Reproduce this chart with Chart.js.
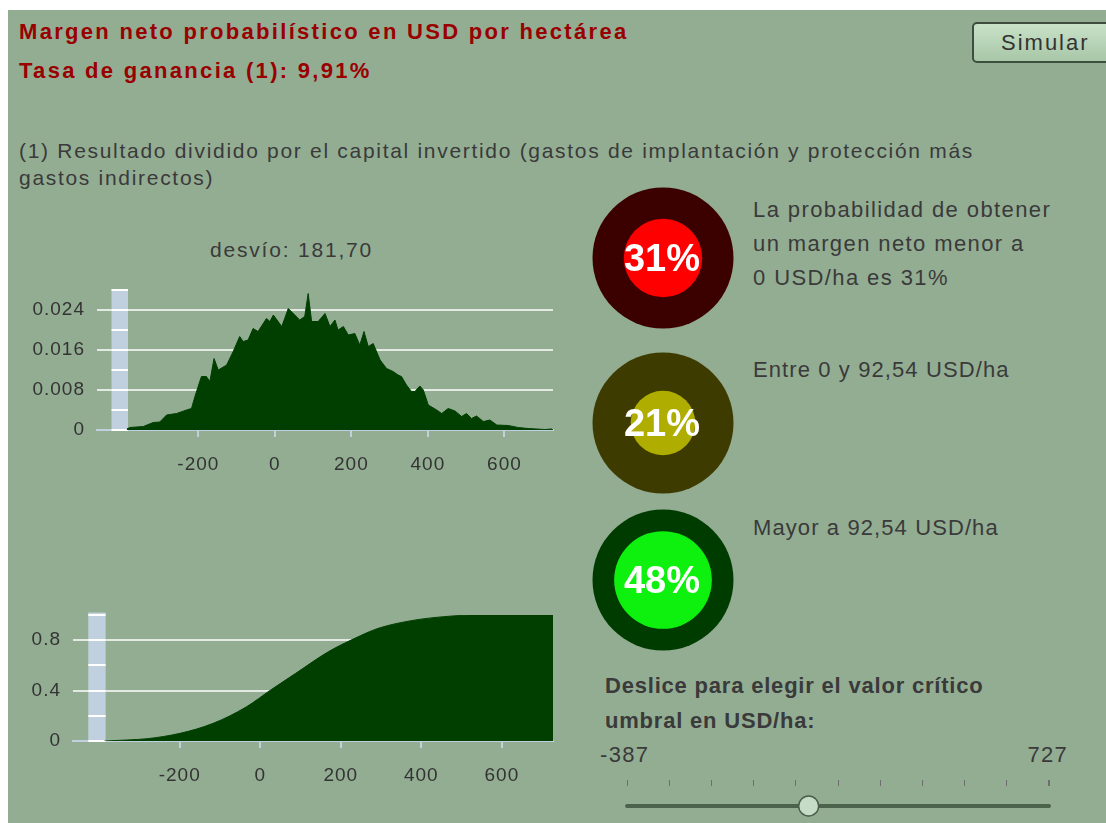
<!DOCTYPE html>
<html>
<head>
<meta charset="utf-8">
<script src="https://cdn.jsdelivr.net/npm/chart.js@4.4.0/dist/chart.umd.min.js"></script>
<style>
body { margin: 0; width: 1106px; height: 823px; overflow: hidden; background: #fff; font-family: "Liberation Sans", Arial, sans-serif; }
#panel { position: absolute; left: 8px; top: 10px; width: 1098px; height: 813px; background: #93ad93; }
.t { position: absolute; white-space: nowrap; color: #3a3a3a; }
.red { color: #990000; font-weight: bold; font-size: 22px; letter-spacing: 2.3px; line-height: 30px; left: 19px; }
canvas { position: absolute; }
#btn { position: absolute; left: 972px; top: 22px; width: 150px; height: 41px; box-sizing: border-box;
  border: 2px solid #3e4e3e; border-radius: 5px; background: linear-gradient(#c8e2c8, #a8c6a8);
  font-size: 22px; letter-spacing: 2px; color: #333; line-height: 37px; padding-left: 27px; }
</style>
</head>
<body>
<div id="panel"></div>
<div class="t red" style="top:17px">Margen neto probabilístico en USD por hectárea</div>
<div class="t red" style="top:56px">Tasa de ganancia (1): 9,91%</div>
<div id="btn">Simular</div>
<div class="t" style="left:19px;top:137px;font-size:21px;letter-spacing:1.7px;line-height:27px">(1) Resultado dividido por el capital invertido (gastos de implantación y protección más<br>gastos indirectos)</div>
<div class="t" style="left:210px;top:235px;font-size:21px;letter-spacing:1.8px;line-height:30px">desvío: 181,70</div>
<div class="t" style="left:753px;top:193px;font-size:22px;letter-spacing:1.4px;line-height:34px">La probabilidad de obtener<br>un margen neto menor a<br>0 USD/ha es 31%</div>
<div class="t" style="left:753px;top:353px;font-size:22px;letter-spacing:1.1px;line-height:34px">Entre 0 y 92,54 USD/ha</div>
<div class="t" style="left:753px;top:511px;font-size:22px;letter-spacing:1.1px;line-height:34px">Mayor a 92,54 USD/ha</div>
<div class="t" style="left:605px;top:669px;font-size:22px;font-weight:bold;letter-spacing:0.8px;line-height:34.5px">Deslice para elegir el valor crítico<br>umbral en USD/ha:</div>
<div class="t" style="left:600px;top:738px;font-size:22px;letter-spacing:1.3px;line-height:34px">-387</div>
<div class="t" style="right:38px;top:738px;font-size:22px;letter-spacing:1.3px;line-height:34px">727</div>

<canvas id="hist" width="545" height="200" style="left:20px;top:280px"></canvas>
<canvas id="cdf" width="555" height="191" style="left:10px;top:600px"></canvas>
<canvas id="g0" width="160" height="160" style="left:583px;top:178px"></canvas>
<canvas id="g1" width="160" height="160" style="left:583px;top:343px"></canvas>
<canvas id="g2" width="160" height="160" style="left:583px;top:500px"></canvas>
<canvas id="slider" width="470" height="66" style="left:600px;top:760px"></canvas>

<script>
// densidad del margen neto (USD/ha)
const histX = [-387, -379, -344, -318, -301, -283, -257, -231, -218, -209, -192, -179, -170, -159, -148, -126, -109, -92, -83, -70,
  -57, -44, -22, -13, -4, 18, 35, 48, 65, 78, 87, 96, 113, 131, 144, 157, 165, 179, 192, 209,
  222, 233, 244, 257, 275, 292, 309, 322, 331, 344, 357, 366, 379, 388, 401, 423, 436, 453, 471, 488,
  501, 514, 527, 545, 562, 580, 610, 636, 662, 706, 723, 727];
const histY = [0.0002, 0.0005, 0.0007, 0.0015, 0.0016, 0.003, 0.0033, 0.004, 0.0043, 0.0067, 0.0107, 0.0107, 0.0097, 0.0143, 0.012, 0.013, 0.0157, 0.0187, 0.0177, 0.018,
  0.0203, 0.0197, 0.0223, 0.0217, 0.023, 0.0207, 0.0243, 0.0233, 0.022, 0.0227, 0.0273, 0.0217, 0.0217, 0.0233, 0.0207, 0.022, 0.02, 0.0207, 0.019, 0.0193,
  0.017, 0.0197, 0.0167, 0.0173, 0.014, 0.0123, 0.0117, 0.011, 0.0107, 0.009, 0.0077, 0.0077, 0.0088, 0.008, 0.005, 0.004, 0.0033, 0.0043, 0.0038, 0.0027,
  0.0033, 0.0023, 0.0028, 0.0017, 0.002, 0.001, 0.0009, 0.0005, 0.0003, 0.0001, 0.0002, 0];

// probabilidad acumulada
const cdfX = [-387, -330, -281, -199, -117, -35, 26, 88, 170, 235, 293, 375, 457, 539, 727];
const cdfY = [0, 0.008, 0.018, 0.061, 0.14, 0.27, 0.405, 0.537, 0.71, 0.815, 0.894, 0.955, 0.987, 1.0, 1.0];

const xTicks = [-200, 0, 200, 400, 600];
const histTicks = [0, 0.008, 0.016, 0.024];
const cdfTicks = [0, 0.4, 0.8];

const probs = [31, 21, 48];
const outerColors = ['#3b0000', '#3d3b00', '#003c00'];
const innerColors = ['#ff0000', '#afae00', '#0ef00e'];

const sliderMin = -387;
const sliderMax = 727;
const sliderValue = 92.54;

Chart.defaults.font.family = '"Liberation Sans", Arial, sans-serif';
Chart.defaults.color = '#333';

const spacing = { id: 'spacing', beforeDraw(c) { c.ctx.letterSpacing = '1px'; } };

// barra celeste a la izquierda del area
const scaleBar = {
  id: 'scaleBar',
  beforeDatasetsDraw(chart, args, opts) {
    const { ctx, scales: { x, y } } = chart;
    const l = x.getPixelForValue(opts.from), r = x.getPixelForValue(opts.to);
    const top = y.getPixelForValue(opts.top), bottom = y.getPixelForValue(0);
    ctx.save();
    ctx.fillStyle = '#c0d0df';
    ctx.fillRect(l, top, r - l, bottom - top + 1);
    ctx.fillStyle = '#fff';
    for (let v = 0; v <= opts.top + 1e-9; v += opts.step) {
      const py = Math.round(y.getPixelForValue(v));
      ctx.fillRect(l, py - 1, r - l, 2);
    }
    ctx.restore();
  }
};

function areaChart(id, X, Y, yMax, yTicks, yWidth, padTop, bar, mono) {
  return new Chart(document.getElementById(id), {
    type: 'line',
    data: {
      datasets: [{
        data: X.map((x, i) => ({ x: x, y: Y[i] })),
        fill: 'origin',
        backgroundColor: '#003f00',
        borderColor: '#003f00',
        borderWidth: 1,
        pointRadius: 0,
        tension: 0,
        cubicInterpolationMode: mono ? 'monotone' : 'default'
      }]
    },
    options: {
      responsive: false,
      animation: false,
      events: [],
      layout: { autoPadding: false, padding: { top: padTop, right: 12 } },
      plugins: { legend: { display: false }, tooltip: { enabled: false }, scaleBar: bar },
      scales: {
        x: {
          type: 'linear', min: -465, max: 727,
          afterBuildTicks: s => { s.ticks = xTicks.map(v => ({ value: v })); },
          afterFit: s => { s.height = 50; s.paddingLeft = 0; s.paddingRight = 0; },
          grid: { drawOnChartArea: false, color: '#c0d0df', lineWidth: 2, tickLength: 7 },
          border: { color: '#c0d0df', width: 2 },
          ticks: { padding: 16, font: { size: 19 }, color: '#333' }
        },
        y: {
          min: 0, max: yMax,
          afterBuildTicks: s => { s.ticks = yTicks.map(v => ({ value: v })); },
          afterFit: s => { s.width = yWidth; s.paddingTop = 0; s.paddingBottom = 0; },
          grid: { drawTicks: false, lineWidth: 2, color: c => c.tick.value === 0 ? 'rgba(0,0,0,0)' : '#e3e9e3' },
          border: { display: false },
          ticks: { padding: 12, font: { size: 19 }, color: '#333', callback: v => String(v) }
        }
      }
    },
    plugins: [scaleBar, spacing]
  });
}

areaChart('hist', histX, histY, 0.028, histTicks, 77, 10, { from: -427, to: -384, top: 0.0282, step: 0.004 }, false);
areaChart('cdf', cdfX, cdfY, 1.0, cdfTicks, 63, 15, { from: -427, to: -384, top: 1.02, step: 0.2 }, true);

// circulos de probabilidad
const R = 70.5;
const centerText = {
  id: 'centerText',
  afterDatasetsDraw(chart, args, opts) {
    const el = chart.getDatasetMeta(0).data[0];
    const ctx = chart.ctx;
    ctx.save();
    ctx.font = 'bold 38px "Liberation Sans", Arial, sans-serif';
    ctx.fillStyle = '#fff';
    ctx.textAlign = 'center';
    ctx.textBaseline = 'alphabetic';
    ctx.fillText(opts.label, el.x - 1, el.y + 13);
    ctx.restore();
  }
};
probs.forEach((p, i) => {
  new Chart(document.getElementById('g' + i), {
    type: 'bubble',
    data: {
      datasets: [
        { data: [{ x: 0, y: 0, r: R * Math.sqrt(p / 100) }], backgroundColor: innerColors[i], borderWidth: 0 },
        { data: [{ x: 0, y: 0, r: R }], backgroundColor: outerColors[i], borderWidth: 0 }
      ]
    },
    options: {
      responsive: false,
      animation: false,
      events: [],
      layout: { autoPadding: false, padding: 0 },
      plugins: { legend: { display: false }, tooltip: { enabled: false }, centerText: { label: p + '%' } },
      scales: { x: { display: false, min: -1, max: 1 }, y: { display: false, min: -1, max: 1 } }
    },
    plugins: [centerText]
  });
});

// deslizador
new Chart(document.getElementById('slider'), {
  type: 'scatter',
  data: {
    datasets: [
      { data: [{ x: sliderValue, y: 0 }], pointRadius: 10, backgroundColor: '#c6dcc6', borderColor: '#4a5e4a', borderWidth: 1.5, clip: false },
      { data: [{ x: sliderMin, y: 0 }, { x: sliderMax, y: 0 }], showLine: true, pointRadius: 0, borderColor: '#4b634b', borderWidth: 4, borderCapStyle: 'round', clip: false }
    ]
  },
  options: {
    responsive: false,
    animation: false,
    events: [],
    layout: { autoPadding: false, padding: { top: 20, left: 27, right: 21 } },
    plugins: { legend: { display: false }, tooltip: { enabled: false } },
    scales: {
      x: {
        type: 'linear', position: 'top', min: sliderMin, max: sliderMax,
        afterBuildTicks: s => { s.ticks = Array.from({ length: 11 }, (_, k) => ({ value: sliderMin + k * (sliderMax - sliderMin) / 10 })); },
        afterFit: s => { s.height = 6; s.paddingLeft = 0; s.paddingRight = 0; },
        ticks: { display: false },
        grid: { drawOnChartArea: false, tickLength: 6, color: '#6e6e6e', lineWidth: c => c.index === 10 ? 2 : 1 },
        border: { display: false }
      },
      y: { display: false, min: -1, max: 1 }
    }
  }
});
</script>
</body>
</html>
